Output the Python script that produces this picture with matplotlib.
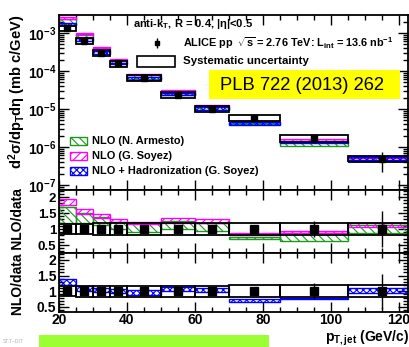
import numpy as np
import matplotlib
matplotlib.use('Agg')
import matplotlib.pyplot as plt
from matplotlib.patches import Rectangle
from matplotlib.ticker import FixedLocator, LogLocator, MultipleLocator, NullFormatter

plt.rcParams['font.family'] = ['Liberation Sans', 'DejaVu Sans']
plt.rcParams['font.weight'] = 'bold'
plt.rcParams['mathtext.fontset'] = 'custom'
plt.rcParams['mathtext.rm'] = 'Liberation Sans:bold'
plt.rcParams['mathtext.it'] = 'Liberation Sans:bold'
plt.rcParams['mathtext.bf'] = 'Liberation Sans:bold'
plt.rcParams['mathtext.sf'] = 'Liberation Sans:bold'
plt.rcParams['hatch.linewidth'] = 0.8

# jet pT bins (GeV/c)
bin_lo = [20, 25, 30, 35, 40, 50, 60, 70, 85, 105]
bin_hi = [25, 30, 35, 40, 50, 60, 70, 85, 105, 125]

# ALICE pp 2.76 TeV cross section (mb c/GeV), relative stat / syst errors
xsec = [1.35e-3, 6.2e-4, 2.97e-4, 1.58e-4, 6.7e-5, 2.4e-5, 1.0e-5, 5.8e-6, 1.7e-6, 4.9e-7]
stat_rel = [0.02, 0.02, 0.02, 0.03, 0.03, 0.05, 0.08, 0.13, 0.25, 0.55]
syst_rel = [0.16, 0.17, 0.18, 0.18, 0.18, 0.18, 0.18, 0.19, 0.19, 0.19]

# NLO/data bands (low, high)
armesto_lo = [1.19, 1.19, 1.12, 1.00, 0.90, 1.00, 0.94, 0.69, 0.63, 0.87]
armesto_hi = [1.69, 1.50, 1.37, 1.22, 1.18, 1.25, 1.19, 0.75, 0.87, 1.12]
soyez_lo = [1.75, 1.47, 1.34, 1.22, 1.17, 1.20, 1.19, 0.82, 0.87, 1.06]
soyez_hi = [1.94, 1.62, 1.47, 1.31, 1.21, 1.34, 1.31, 0.86, 0.94, 1.19]
had_lo = [1.20, 1.00, 0.97, 0.94, 0.87, 1.00, 0.97, 0.65, 0.74, 0.94]
had_hi = [1.40, 1.16, 1.10, 1.06, 1.03, 1.13, 1.10, 0.77, 0.80, 1.10]

xlim = (20, 122.7)
green, magenta, blue = '#1a9a1a', '#ff00ff', '#0000ff'

W, H = 410, 347
fig = plt.figure(figsize=(W / 100, H / 100), dpi=100)


def px_axes(x0, y0, x1, y1):
    return fig.add_axes([x0 / W, 1 - y1 / H, (x1 - x0) / W, (y1 - y0) / H])


ax_top = px_axes(59, 15, 408, 190)
ax_mid = px_axes(59, 190, 408, 253)
ax_bot = px_axes(59, 253, 408, 312)

lo = np.array(bin_lo, float)
hi = np.array(bin_hi, float)
xc = (lo + hi) / 2
y = np.array(xsec)
stat = np.array(stat_rel)
syst = np.array(syst_rel)


def bands(ax, low, high, color, hatch):
    ax.bar(lo, np.array(high) - np.array(low), width=hi - lo, bottom=low, align='edge',
           fill=False, hatch=hatch, edgecolor=color, linewidth=1, zorder=2)


def syst_boxes(ax, center, rel):
    for x0, x1, c, r in zip(lo, hi, center, rel):
        ax.add_patch(Rectangle((x0, c * (1 - r)), x1 - x0, 2 * c * r, fill=False,
                               edgecolor='k', linewidth=1.3, zorder=3))


# top: cross section
bands(ax_top, y * armesto_lo, y * armesto_hi, green, '\\\\\\\\')
bands(ax_top, y * soyez_lo, y * soyez_hi, magenta, '////')
bands(ax_top, y * had_lo, y * had_hi, blue, 'xxxxx')
syst_boxes(ax_top, y, syst)
ax_top.errorbar(xc, y, yerr=y * stat, fmt='s', color='k', ms=4, elinewidth=1, capsize=0, zorder=4)
ax_top.set_yscale('log')
ax_top.set_ylim(7.4e-8, 2.98e-3)
ax_top.yaxis.set_major_locator(FixedLocator([1e-7, 1e-6, 1e-5, 1e-4, 1e-3]))
ax_top.set_yticklabels([r'$10^{-7}$', r'$10^{-6}$', r'$10^{-5}$', r'$10^{-4}$', r'$10^{-3}$'])
ax_top.yaxis.set_minor_locator(LogLocator(base=10, subs=np.arange(2, 10)))
ax_top.yaxis.set_minor_formatter(NullFormatter())

# middle: NLO/data
bands(ax_mid, armesto_lo, armesto_hi, green, '\\\\\\\\')
bands(ax_mid, soyez_lo, soyez_hi, magenta, '////')
syst_boxes(ax_mid, np.ones(10), syst)
ax_mid.errorbar(xc, np.ones(10), yerr=stat, fmt='s', color='k', ms=5.5, elinewidth=1, capsize=0, zorder=4)
ax_mid.set_ylim(0.25, 2.22)

# bottom: NLO+hadronization/data
bands(ax_bot, had_lo, had_hi, blue, 'xxxxx')
syst_boxes(ax_bot, np.ones(10), syst)
ax_bot.errorbar(xc, np.ones(10), yerr=stat, fmt='s', color='k', ms=5.5, elinewidth=1, capsize=0, zorder=4)
ax_bot.set_ylim(0.34, 2.22)

for ax in (ax_mid, ax_bot):
    ax.yaxis.set_major_locator(FixedLocator([0.5, 1, 1.5, 2]))
    ax.set_yticklabels(['0.5', '1', '1.5', '2'])
    ax.yaxis.set_minor_locator(MultipleLocator(0.1))

for ax in (ax_top, ax_mid, ax_bot):
    ax.set_xlim(*xlim)
    ax.xaxis.set_major_locator(MultipleLocator(20))
    ax.xaxis.set_minor_locator(MultipleLocator(5))
    ax.tick_params(which='both', direction='in', top=True, right=True, labelsize=10, pad=2)
    ax.tick_params(which='major', length=7, width=1)
    ax.tick_params(which='minor', length=3.5, width=1)
    for s in ax.spines.values():
        s.set_linewidth(1.3)
    if ax is not ax_bot:
        ax.tick_params(labelbottom=False)
ax_mid.tick_params(axis='y', labelsize=9.5)
ax_bot.tick_params(axis='x', pad=1)

# legend block in top panel
T = ax_top.transAxes
ax_top.text(0.212, 0.949, r'anti-k$_{T}$, R = 0.4, |$\eta$|<0.5', transform=T, fontsize=8, va='center')
ax_top.errorbar([0.281], [0.84], yerr=[0.03], fmt='s', color='k', ms=3.5, elinewidth=1, capsize=0,
                transform=T)
ax_top.text(0.355, 0.84, r'ALICE pp  $\sqrt{s}$ = 2.76 TeV: L$_{int}$ = 13.6 nb$^{-1}$', transform=T,
            fontsize=7.8, va='center')
ax_top.add_patch(Rectangle((0.2235, 0.703), 0.1085, 0.063, transform=T, fill=False, edgecolor='k', lw=1.2))
ax_top.text(0.355, 0.737, 'Systematic uncertainty', transform=T, fontsize=8.2, va='center')

ax_top.add_patch(Rectangle((0.43, 0.52), 0.547, 0.166, transform=T, facecolor='#ffff00', edgecolor='none',
                           zorder=5))
ax_top.text(0.696, 0.6, 'PLB 722 (2013) 262', transform=T, fontsize=13.2, fontweight='normal',
            ha='center', va='center', zorder=6)

leg = [('NLO (N. Armesto)', green, '\\\\\\\\'),
       ('NLO (G. Soyez)', magenta, '////'),
       ('NLO + Hadronization (G. Soyez)', blue, 'xxxxx')]
for i, (lab, col, hat) in enumerate(leg):
    yy = 0.28 - i * 0.0855
    ax_top.add_patch(Rectangle((0.0315, yy - 0.025), 0.0485, 0.05, transform=T, fill=False,
                               hatch=hat, edgecolor=col, lw=1))
    ax_top.text(0.0946, yy, lab, transform=T, fontsize=7.9, va='center')

# axis titles
fig.text(17 / W, 1 - 92 / H, r'd$^{2}\sigma$/dp$_{T}$d$\eta$ (mb c/GeV)', rotation=90,
         ha='center', va='center', fontsize=10.5)
fig.text(18 / W, 1 - 252 / H, 'NLO/data NLO/data', rotation=90, ha='center', va='center', fontsize=10)
fig.text(409 / W, 1 - 338 / H, r'p$_{T,jet}$ (GeV/c)', ha='right', va='center', fontsize=10)

# bottom strip
fig.patches.append(Rectangle((39 / W, 0), 230 / W, 12 / H, transform=fig.transFigure,
                             facecolor='#9bff33', edgecolor='none'))
fig.text(3 / W, 4 / H, 'ST.T\u2013DIT', fontsize=3.5, color='#b0b0b0', fontweight='normal')

fig.savefig('out.png', dpi=100)
